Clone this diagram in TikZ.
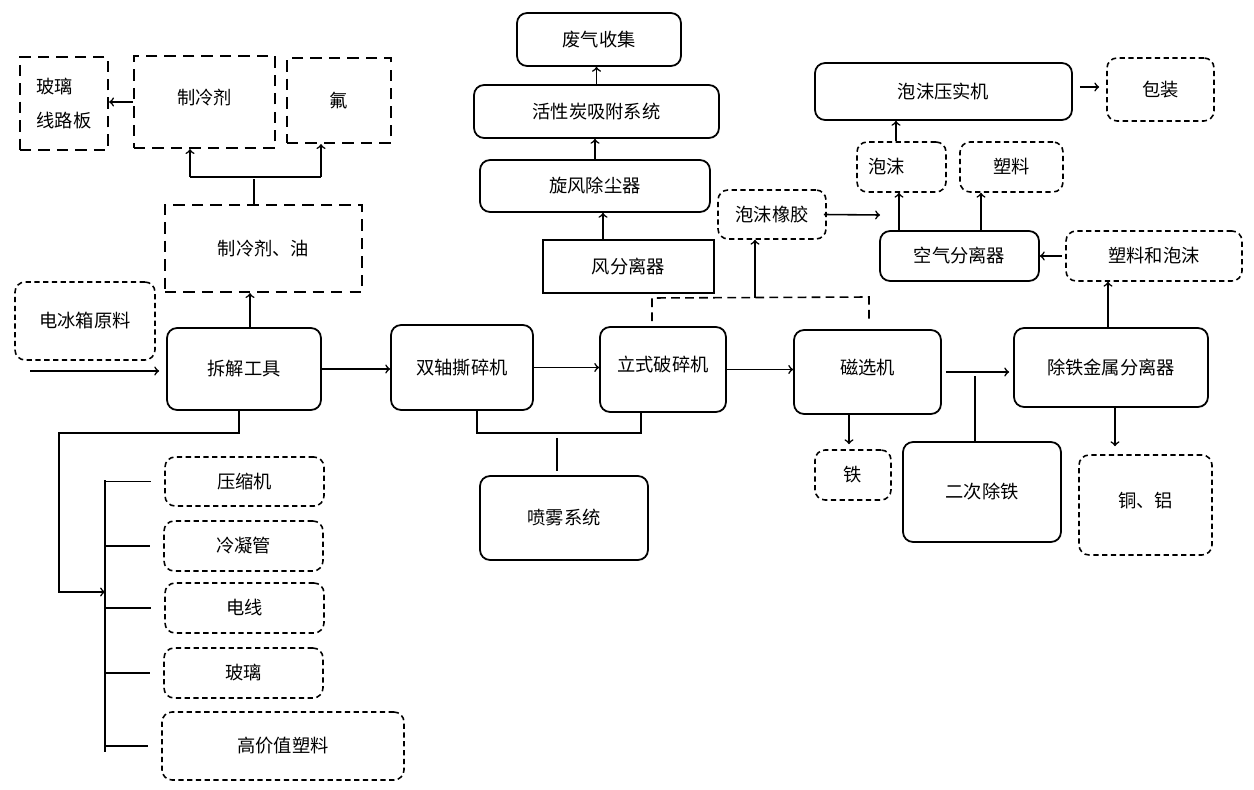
\documentclass[tikz,border=0pt]{standalone}
\usepackage{fontspec}
\setmainfont{Noto Sans CJK SC}
\usepackage{tikz}
\usetikzlibrary{positioning}
\usetikzlibrary{arrows,calc}

\begin{document}
\begin{tikzpicture} [
    x=0.02cm, y=-0.02cm,
    font=\fontsize{10.4}{12}\selectfont,
    block/.style    = { rectangle, draw, line width=1pt, rounded corners=0.2cm,
                        inner sep=1pt, align=center },
    plainbox/.style = { rectangle, draw, line width=1.4pt, inner sep=1pt },
    dashbox/.style  = { rectangle, draw, line width=1.3pt,
                        dash pattern=on 6.5pt off 4pt, inner sep=1pt },
    outbox/.style   = { rectangle, draw, line width=0.9pt, rounded corners=0.2cm,
                        dash pattern=on 3pt off 2pt, inner sep=1pt, align=center },
    line/.style     = { draw, line width=0.9pt, ->, >=to },
    dashline/.style = { draw, line width=0.9pt, dash pattern=on 5pt off 3pt },
  ]
  \useasboundingbox (0,0) rectangle (1254,790);

  % disassembly
  \node (raw) [outbox, minimum width=2.80cm, minimum height=1.56cm] at (85,321) {电冰箱原料};
  \node (chai) [block, minimum width=3.08cm, minimum height=1.64cm] at (244,369) {拆解工具};
  \node (zljy) [dashbox, minimum width=3.94cm, minimum height=1.74cm] at (263.5,248.5) {制冷剂、油};
  \node (zlj) [dashbox, minimum width=2.82cm, minimum height=1.84cm] at (204.5,102) {\raisebox{0.2cm}{制冷剂}};
  \node (fu) [dashbox, minimum width=2.08cm, minimum height=1.70cm] at (339,100.5) {氟};
  \node (board) [dashbox, minimum width=1.76cm, minimum height=1.86cm, align=left] at (64,103.5) {玻璃\\[0.25cm]线路板};
  \node (comp) [outbox, minimum width=3.18cm, minimum height=0.98cm] at (244.5,481.5) {压缩机};
  \node (cond) [outbox, minimum width=3.18cm, minimum height=1.00cm] at (243.5,546) {冷凝管};
  \node (wire) [outbox, minimum width=3.18cm, minimum height=1.00cm] at (244.5,608) {电线};
  \node (glass) [outbox, minimum width=3.18cm, minimum height=1.00cm] at (243.5,673) {玻璃};
  \node (hvp) [outbox, minimum width=4.84cm, minimum height=1.36cm] at (283,746) {高价值塑料};

  % crushing and exhaust gas
  \node (shred) [block, minimum width=2.84cm, minimum height=1.70cm] at (462,367.5) {双轴撕碎机};
  \node (crush) [block, minimum width=2.52cm, minimum height=1.70cm] at (663,369.5) {\raisebox{0.24cm}{立式破碎机}};
  \node (spray) [block, minimum width=3.36cm, minimum height=1.68cm] at (564,518) {喷雾系统};
  \node (wind) [plainbox, minimum width=3.42cm, minimum height=1.06cm] at (628.5,266.5) {风分离器};
  \node (cyclone) [block, minimum width=4.60cm, minimum height=1.04cm] at (595,186) {旋风除尘器};
  \node (carbon) [block, minimum width=4.90cm, minimum height=1.06cm] at (596.5,111.5) {活性炭吸附系统};
  \node (gas) [block, minimum width=3.28cm, minimum height=1.06cm] at (599,39.5) {废气收集};

  % foam and metals
  \node (rubber) [outbox, minimum width=2.16cm, minimum height=0.98cm] at (772,214.5) {泡沫橡胶};
  \node (press) [block, minimum width=5.14cm, minimum height=1.14cm] at (943.5,91.5) {泡沫压实机};
  \node (pack) [outbox, minimum width=2.14cm, minimum height=1.26cm] at (1160.5,89.5) {包装};
  \node (foam) [outbox, minimum width=1.78cm, minimum height=1.00cm] at (901.5,167) {泡沫\hspace{0.6cm}};
  \node (plastic) [outbox, minimum width=2.06cm, minimum height=1.00cm] at (1011.5,167) {塑料};
  \node (air) [block, minimum width=3.18cm, minimum height=1.00cm] at (959.5,256) {空气分离器};
  \node (mix) [outbox, minimum width=3.52cm, minimum height=1.00cm] at (1154,256) {塑料和泡沫};
  \node (mag) [block, minimum width=2.94cm, minimum height=1.68cm] at (867.5,372) {\raisebox{0.2cm}{磁选机}};
  \node (iron) [outbox, minimum width=1.52cm, minimum height=1.00cm] at (853,475) {铁};
  \node (second) [block, minimum width=3.16cm, minimum height=2.00cm] at (982,492) {二次除铁};
  \node (metal) [block, minimum width=3.88cm, minimum height=1.58cm] at (1111,367.5) {除铁金属分离器};
  \node (cual) [outbox, minimum width=2.66cm, minimum height=2.00cm] at (1145.5,505) {\raisebox{0.2cm}{铜、铝}};

  \coordinate (in) at (30,371);
  \coordinate (zfork) at (254,177);
  \coordinate (zl) at (190,177);
  \coordinate (zr) at (321,177);
  \coordinate (kink) at (59,433);
  \coordinate (feed) at (59,592);
  \coordinate (bustop) at (105,480);
  \coordinate (busbot) at (105,752);
  \coordinate (spraybar) at (557,433);
  \coordinate (dl) at (652,298);
  \coordinate (dr) at (869,297);
  \coordinate (rubend) at (880,215);

  % connect nodes
  \begin{scope}[every path/.style=line]
  \path (zlj.west) -- (zlj.west -| board.east);
  \path (250,0 |- chai.north) -- (250,0 |- zljy.south);
  \path (zl) -- (zl |- zlj.south);
  \path (zr) -- (zr |- fu.south);
  \path (in) -- ([xshift=-0.14cm]in -| chai.west);
  \path (chai.east) -- (chai.east -| shred.west);
  \path (239,0 |- chai.south) |- (kink) -- (feed) -- (feed -| bustop);
  \path (shred.east) -- (shred.east -| crush.west);
  \path (603,0 |- wind.north) -- (603,0 |- cyclone.south);
  \path (cyclone.north) -- (cyclone.north |- carbon.south);
  \path (carbon.north) -- (carbon.north |- gas.south);
  \path (755,0 |- dl) -- (755,0 |- rubber.south);
  \path ([xshift=-0.06cm]rubber.east) -- (rubend);
  \path (899,0 |- air.north) -- (899,0 |- foam.south);
  \path (981,0 |- air.north) -- (981,0 |- plastic.south);
  \path (896,0 |- foam.north) -- (896,0 |- press.south);
  \path ([shift={(0.14cm,0.09cm)}]press.east) -- ([shift={(-0.14cm,0.09cm)}]press.east -| pack.west);
  \path ([xshift=-0.06cm]mix.west) -- (air.east);
  \path (1108,0 |- metal.north) -- (1108,0 |- mix.south);
  \path (crush.east) -- (crush.east -| mag.west);
  \path ([xshift=0.08cm]mag.east) -- ([xshift=-0.08cm]mag.east -| metal.west);
  \path (849,0 |- mag.south) -- ([yshift=0.1cm]849,0 |- iron.north);
  \path (1115,0 |- metal.south) -- ([yshift=0.16cm]1115,0 |- cual.north);
  \end{scope}

  \begin{scope}[line width=0.9pt]
  \draw (zfork |- zljy.north) -- ([yshift=-0.04cm]zfork);
  \draw (zl) -- (zr);
  \draw (bustop) -- (busbot);
  \foreach \part in {comp,cond,wire,glass,hvp}
    \draw (bustop |- \part) -- ([xshift=-0.26cm]\part.west);
  \draw (shred.south -| 477,0) |- (spraybar) -| (crush.south -| 641,0);
  \draw ([yshift=-0.1cm]spraybar) -- ([yshift=0.08cm]spray.north -| spraybar);
  \draw (975,0 |- second.north) -- (975,376);
  \end{scope}
  \path[dashline] ([yshift=0.1cm]dl |- crush.north) -- (dl) -- (dr) -- ([yshift=0.16cm]dr |- mag.north);

\end{tikzpicture}
\end{document}
